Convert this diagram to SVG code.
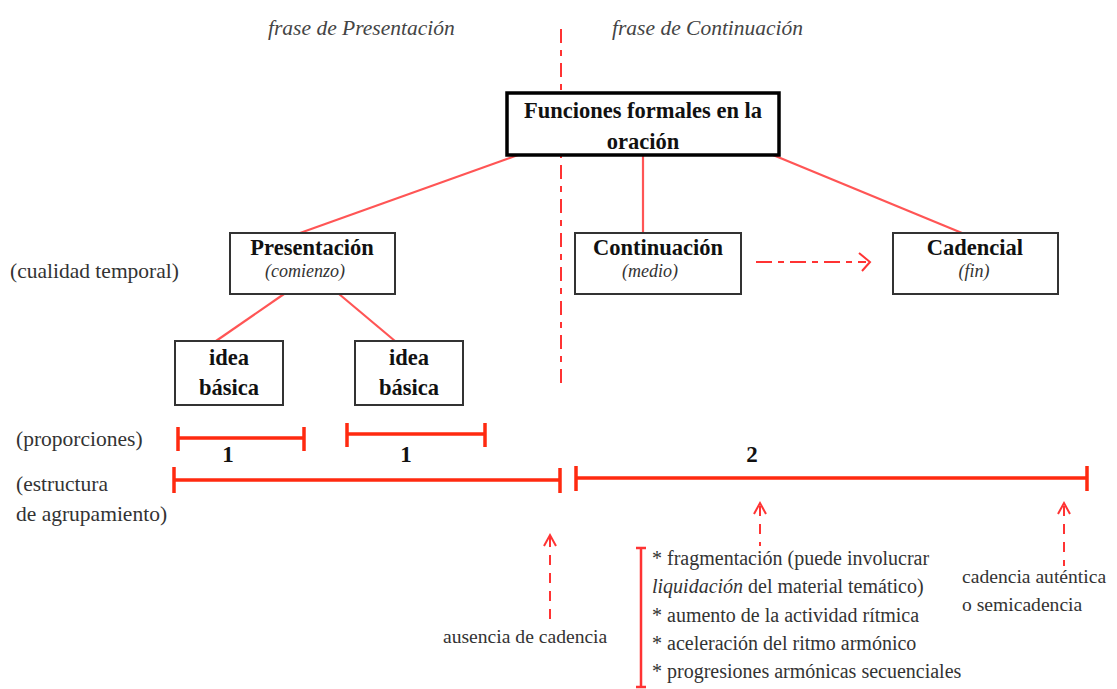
<svg xmlns="http://www.w3.org/2000/svg" width="1117" height="689" viewBox="0 0 1117 689">
<style>
text{font-family:"Liberation Serif","Times New Roman",serif;fill:#333}
.hdr{font-size:21.5px;font-style:italic;fill:#444}
.b{font-weight:bold;fill:#111;font-size:22.5px}
.i{font-style:italic;font-size:18px;fill:#333}
.lbl{font-size:21.5px}
.nt{font-size:19.6px}
.num{font-size:23px;fill:#111;font-weight:bold}
.lst{font-size:20px}
.box{fill:#fff;stroke:#333;stroke-width:2}
.con{stroke:#f55;stroke-width:2.2;fill:none}
.bar{stroke:#ff2a10;stroke-width:3.5;fill:none}
.dash{stroke:#f33;stroke-width:2;fill:none;stroke-dasharray:14 7 6 7}
.arr{stroke:#f33;stroke-width:2;fill:none}
</style>
<rect width="1117" height="689" fill="#fff"/>
<g id="headers">
<text class="hdr" x="268" y="35">frase de Presentación</text>
<text class="hdr" x="612" y="35">frase de Continuación</text>
</g>
<g id="connectors">
<line class="dash" x1="561" y1="29" x2="561" y2="388"/>
<line class="con" x1="518" y1="155" x2="300" y2="233"/>
<line class="con" x1="643" y1="155" x2="643" y2="233"/>
<line class="con" x1="773" y1="155" x2="962" y2="233"/>
<line class="con" x1="284" y1="294" x2="216" y2="341"/>
<line class="con" x1="339" y1="294" x2="395" y2="341"/>
<line class="dash" x1="756" y1="262" x2="866" y2="262" style="stroke-dasharray:16 6 6 6"/>
<polyline class="arr" points="859,253 870,262 862,271"/>
</g>
<g id="main">
<rect x="507" y="93" width="272" height="62" fill="#fff" stroke="#000" stroke-width="3.5"/>
<text class="b" x="643" y="118" text-anchor="middle">Funciones formales en la</text>
<text class="b" x="643" y="149" text-anchor="middle">oración</text>
</g>
<g id="presentacion">
<rect class="box" x="230" y="233" width="165" height="61"/>
<text class="b" x="312" y="255" text-anchor="middle">Presentación</text>
<text class="i" x="305" y="277" text-anchor="middle">(comienzo)</text>
</g>
<g id="continuacion">
<rect class="box" x="575" y="233" width="166" height="61"/>
<text class="b" x="658" y="255" text-anchor="middle">Continuación</text>
<text class="i" x="650" y="277" text-anchor="middle">(medio)</text>
</g>
<g id="cadencial">
<rect class="box" x="893" y="233" width="165" height="61"/>
<text class="b" x="975" y="255" text-anchor="middle">Cadencial</text>
<text class="i" x="974" y="277" text-anchor="middle">(fin)</text>
</g>
<g id="idea1">
<rect class="box" x="175" y="341" width="108" height="64"/>
<text class="b" x="229" y="365" text-anchor="middle">idea</text>
<text class="b" x="229" y="395" text-anchor="middle">básica</text>
</g>
<g id="idea2">
<rect class="box" x="355" y="341" width="108" height="64"/>
<text class="b" x="409" y="365" text-anchor="middle">idea</text>
<text class="b" x="409" y="395" text-anchor="middle">básica</text>
</g>
<g id="labels">
<text class="lbl" x="10" y="278">(cualidad temporal)</text>
<text class="lbl" x="16" y="446">(proporciones)</text>
<text class="lbl" x="16" y="491">(estructura</text>
<text class="lbl" x="16" y="521">de agrupamiento)</text>
</g>
<g id="bars">
<path class="bar" d="M178 438H304M178 427V451M304 427V451"/>
<path class="bar" d="M347 434H485M347 423V447M485 423V447"/>
<path class="bar" d="M174 480H560M174 467V493M560 468V493"/>
<path class="bar" d="M576 478H1087M576 466V491M1087 466V491"/>
<text class="num" x="228" y="462" text-anchor="middle">1</text>
<text class="num" x="406" y="462" text-anchor="middle">1</text>
<text class="num" x="752" y="462" text-anchor="middle">2</text>
</g>
<g id="arrows">
<line class="dash" x1="550" y1="537" x2="550" y2="626" style="stroke-dasharray:10 8"/>
<polyline class="arr" points="544,546 550,535 556,546"/>
<line class="dash" x1="760" y1="506" x2="760" y2="546" style="stroke-dasharray:10 8"/>
<polyline class="arr" points="754,514 760,503 766,514"/>
<line class="dash" x1="1064" y1="506" x2="1064" y2="566" style="stroke-dasharray:10 8"/>
<polyline class="arr" points="1058,514 1064,503 1070,514"/>
</g>
<g id="notes">
<text class="nt" x="443" y="643">ausencia de cadencia</text>
<text class="nt" x="962" y="583">cadencia auténtica</text>
<text class="nt" x="962" y="611">o semicadencia</text>
<path class="arr" d="M641 548V687M636 548H646M636 687H646" style="stroke-width:2.5"/>
<text class="lst" x="652" y="565">* fragmentación (puede involucrar</text>
<text class="lst" x="652" y="593"><tspan font-style="italic">liquidación</tspan> del material temático)</text>
<text class="lst" x="652" y="622">* aumento de la actividad rítmica</text>
<text class="lst" x="652" y="650">* aceleración del ritmo armónico</text>
<text class="lst" x="652" y="678">* progresiones armónicas secuenciales</text>
</g>
</svg>
